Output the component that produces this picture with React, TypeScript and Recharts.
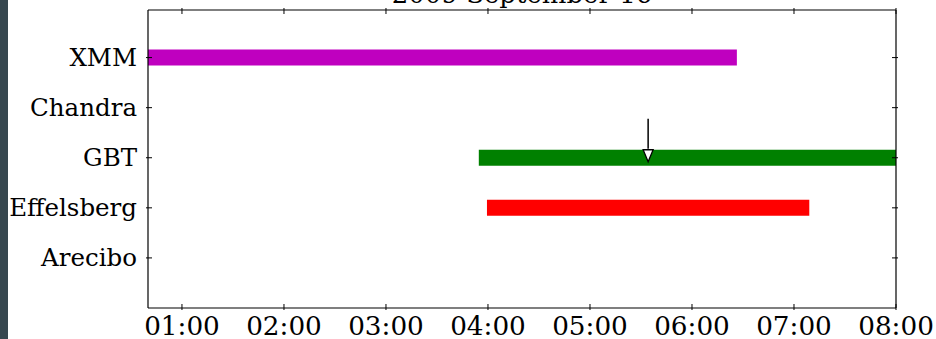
import { ComposedChart, Line, Scatter, XAxis, YAxis } from "recharts"

const INSTRUMENTS = ["Arecibo", "Effelsberg", "GBT", "Chandra", "XMM"]
const HOUR_TICKS = [1, 2, 3, 4, 5, 6, 7, 8]
const HOUR_LABELS = ["01:00", "02:00", "03:00", "04:00", "05:00", "06:00", "07:00", "08:00"]

// observing windows, hours since 00:00
const XMM_SPAN = [0.5, 6.44]
const GBT_SPAN = [3.91, 8.3]
const EFF_SPAN = [3.99, 7.15]

// event marker on GBT
const EVENT_T = 5.57
const EVENT_SHAFT = [2.78, 2.18]
const EVENT_TIP = 1.92

const X_DOMAIN = [0.667, 8]
const Y_DOMAIN = [-1, 4.95]

const FONT = "'DejaVu Serif', serif"

const span = (s: number[], row: string) =>
  s.map((t) => ({ t, y: INSTRUMENTS.indexOf(row) }))

const xmmData = span(XMM_SPAN, "XMM")
const gbtData = span(GBT_SPAN, "GBT")
const effData = span(EFF_SPAN, "Effelsberg")
const shaftData = EVENT_SHAFT.map((y) => ({ t: EVENT_T, y }))
const tipData = [{ t: EVENT_T, y: EVENT_TIP }]

function BottomTick({ x, y, payload }: any) {
  const i = HOUR_TICKS.indexOf(payload.value)
  return (
    <g>
      <line x1={x} y1={y} x2={x} y2={y - 6} stroke="#000" strokeWidth={1} />
      <g transform={`translate(${x},${y + 24.5}) scale(1.03,1)`}>
        <text x={0} y={0} textAnchor="middle" fontFamily={FONT} fontSize={25.5} fill="#000">
          {HOUR_LABELS[i]}
        </text>
      </g>
    </g>
  )
}

function TopTick({ x, y }: any) {
  return <line x1={x} y1={y} x2={x} y2={y + 6} stroke="#000" strokeWidth={1} />
}

function LeftTick({ x, y, payload }: any) {
  return (
    <g>
      <line x1={x} y1={y} x2={x + 6} y2={y} stroke="#000" strokeWidth={1} />
      <text x={x - 9} y={y + 8} textAnchor="end" fontFamily={FONT} fontSize={24.5} fill="#000">
        {INSTRUMENTS[payload.value]}
      </text>
    </g>
  )
}

function RightTick({ x, y }: any) {
  return <line x1={x} y1={y} x2={x - 6} y2={y} stroke="#000" strokeWidth={1} />
}

function ArrowHead({ cx, cy }: any) {
  return (
    <path
      d={`M${cx},${cy} L${cx - 5},${cy - 12} L${cx + 5},${cy - 12} Z`}
      fill="#fff"
      stroke="#000"
      strokeWidth={1.3}
    />
  )
}

export default function App() {
  const yTicks = INSTRUMENTS.map((_, i) => i)
  return (
    <div style={{ position: "fixed", left: 0, top: 0, width: 936, height: 339, background: "#fff", overflow: "hidden" }}>
      <div style={{ position: "absolute", left: 0, top: 0, width: 8, height: 339, background: "#37474f" }} />
      <div
        style={{
          position: "absolute", left: 148, width: 748, top: -19, textAlign: "center",
          fontFamily: FONT, fontSize: 26, lineHeight: "26px", color: "#000",
        }}
      >
        2009 September 16
      </div>
      <ComposedChart width={936} height={339} margin={{ top: 0, right: 30, bottom: 0, left: 8 }}>
        <XAxis
          type="number" dataKey="t" domain={X_DOMAIN} ticks={HOUR_TICKS} allowDataOverflow
          height={31} tickSize={0} tickLine={false} tick={<BottomTick />} interval={0}
          axisLine={{ stroke: "#000", strokeWidth: 1.2 }}
        />
        <XAxis
          xAxisId="top" orientation="top" type="number" dataKey="t" domain={X_DOMAIN} ticks={HOUR_TICKS}
          allowDataOverflow height={10} tickSize={0} tickLine={false} tick={<TopTick />} interval={0}
          axisLine={{ stroke: "#000", strokeWidth: 1.2 }}
        />
        <YAxis
          type="number" dataKey="y" domain={Y_DOMAIN} ticks={yTicks} allowDataOverflow width={140}
          tickSize={0} tickLine={false} tick={<LeftTick />} interval={0}
          axisLine={{ stroke: "#000", strokeWidth: 1.2 }}
        />
        <YAxis
          yAxisId="right" orientation="right" type="number" dataKey="y" domain={Y_DOMAIN} ticks={yTicks}
          allowDataOverflow width={10} tickSize={0} tickLine={false} tick={<RightTick />} interval={0}
          axisLine={{ stroke: "#000", strokeWidth: 1.2 }}
        />
        <Line data={xmmData} dataKey="y" stroke="#bf00bf" strokeWidth={16} dot={false} activeDot={false} isAnimationActive={false} />
        <Line data={gbtData} dataKey="y" stroke="#008000" strokeWidth={16} dot={false} activeDot={false} isAnimationActive={false} />
        <Line data={effData} dataKey="y" stroke="#ff0000" strokeWidth={16} dot={false} activeDot={false} isAnimationActive={false} />
        <Line data={shaftData} dataKey="y" stroke="#000" strokeWidth={1.5} dot={false} activeDot={false} isAnimationActive={false} />
        <Scatter data={tipData} dataKey="y" shape={<ArrowHead />} isAnimationActive={false} />
      </ComposedChart>
    </div>
  )
}
